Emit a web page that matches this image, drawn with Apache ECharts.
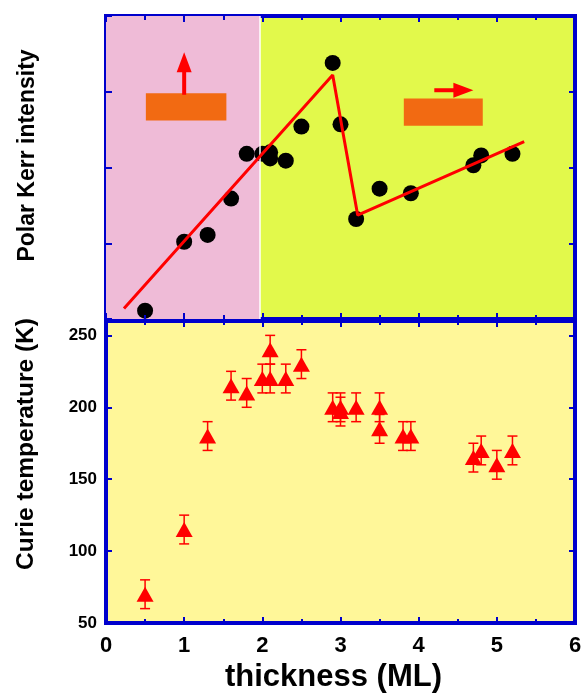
<!DOCTYPE html>
<html><head><meta charset="utf-8">
<script src="https://cdn.jsdelivr.net/npm/echarts@6/dist/echarts.min.js"></script>
<style>html,body{margin:0;padding:0;background:#fff}#c{width:587px;height:697px}</style>
</head><body><div id="c"></div><script>
// ---- data ----
const xTicks = [0, 1, 2, 3, 4, 5, 6];
const kerrTicks = [0, 1, 2, 3, 4];
const curieTicks = [50, 100, 150, 200, 250];

const kerrX = [0.5, 1.0, 1.3, 1.6, 1.8, 2.0, 2.1, 2.1, 2.3, 2.5, 2.9, 3.0, 3.2, 3.5, 3.9, 4.7, 4.8, 5.2];
const kerrY = [0.11, 1.02, 1.11, 1.59, 2.18, 2.18, 2.2, 2.12, 2.09, 2.54, 3.38, 2.57, 1.32, 1.72, 1.66, 2.03, 2.16, 2.18];

const fitX = [0.23, 2.9, 3.22, 5.35];
const fitY = [0.14, 3.22, 1.37, 2.34];

const curieX = [0.5, 1.0, 1.3, 1.6, 1.8, 2.0, 2.1, 2.1, 2.3, 2.5, 2.9, 3.0, 3.0, 3.2, 3.5, 3.5, 3.8, 3.9, 4.7, 4.8, 5.0, 5.2];
const curieY = [70, 115, 180, 215, 210, 220, 240, 220, 220, 230, 200, 200, 197, 200, 200, 185, 180, 180, 165, 170, 160, 170];
const curieErr = [10, 10, 10, 10, 10, 10, 10, 10, 10, 10, 10, 10, 10, 10, 10, 10, 10, 10, 10, 10, 10, 10];

// region boundary (out-of-plane -> in-plane)
const regionSplit = [1.97];
// annotation boxes [x1, y1, x2, y2] and arrows [xFrom, yFrom, xTo, yTo] in data units
const annotBoxes = [[0.51, 2.62, 1.54, 2.98], [3.81, 2.55, 4.82, 2.91]];
const annotArrows = [[1.0, 2.96, 1.0, 3.52], [4.2, 3.02, 4.7, 3.02]];

// ---- styles ----
const BLUE = '#0000CC', RED = '#FF0000', FONT = '"Liberation Sans", Arial, Helvetica, sans-serif';
const tick = () => ({show: true, inside: true, length: 6, lineStyle: {color: BLUE, width: 2}});
const minor = () => ({show: true, splitNumber: 2, length: 4, lineStyle: {color: BLUE, width: 2}});
const noLine = () => ({show: false, onZero: false});

function xAx(grid, pos, labels) {
  const a = {type: 'value', gridIndex: grid, position: pos, z: 10, min: xTicks[0], max: xTicks[xTicks.length - 1], interval: 1,
    axisLine: noLine(), splitLine: {show: false}, axisTick: tick(), minorTick: minor(),
    axisLabel: {show: labels, fontFamily: FONT, fontWeight: 'bold', fontSize: 22, color: '#000', margin: 12}};
  if (labels) {
    a.name = 'thickness (ML)'; a.nameLocation = 'middle'; a.nameGap = 39;
    a.nameTextStyle = {fontFamily: FONT, fontWeight: 'bold', fontSize: 31, color: '#000', padding: [0, 14, 0, 0]};
  }
  return a;
}

const chart = echarts.init(document.getElementById('c'), null, {renderer: 'canvas'});
chart.setOption({
  animation: false,
  backgroundColor: '#fff',
  grid: [
    {left: 106, top: 16, width: 469, height: 303, show: true, backgroundColor: '#E2F94B', borderColor: BLUE, borderWidth: 4},
    {left: 106, top: 321, width: 469, height: 302, show: true, backgroundColor: '#FFF799', borderColor: BLUE, borderWidth: 4}
  ],
  xAxis: [xAx(0, 'bottom', false), xAx(0, 'top', false), xAx(1, 'bottom', true), xAx(1, 'top', false)],
  yAxis: [
    {type: 'value', gridIndex: 0, position: 'left', z: 10, min: kerrTicks[0], max: kerrTicks[kerrTicks.length - 1], interval: 1,
      axisLine: noLine(), splitLine: {show: false}, axisTick: tick(), axisLabel: {show: false},
      name: 'Polar Kerr intensity', nameLocation: 'middle', nameGap: 67, nameRotate: 90,
      nameTextStyle: {fontFamily: FONT, fontWeight: 'bold', fontSize: 23, color: '#000', padding: [0, 0, 0, 24]}},
    {type: 'value', gridIndex: 0, position: 'right', z: 10, min: kerrTicks[0], max: kerrTicks[kerrTicks.length - 1], interval: 1,
      axisLine: noLine(), splitLine: {show: false}, axisTick: tick(), axisLabel: {show: false}},
    {type: 'value', gridIndex: 1, position: 'left', z: 10, min: curieTicks[0], max: 260, interval: 50,
      axisLine: noLine(), splitLine: {show: false}, axisTick: tick(),
      axisLabel: {fontFamily: FONT, fontWeight: 'bold', fontSize: 17, color: '#000', margin: 9, showMaxLabel: false},
      name: 'Curie temperature (K)', nameLocation: 'middle', nameGap: 67, nameRotate: 90,
      nameTextStyle: {fontFamily: FONT, fontWeight: 'bold', fontSize: 24.5, color: '#000', padding: [0, 0, 0, 56]}},
    {type: 'value', gridIndex: 1, position: 'right', z: 10, min: curieTicks[0], max: 260, interval: 50,
      axisLine: noLine(), splitLine: {show: false}, axisTick: tick(), axisLabel: {show: false}}
  ],
  series: [
    { // pink region background
      type: 'scatter', xAxisIndex: 0, yAxisIndex: 0, data: [], z: 1, silent: true,
      markArea: {silent: true, itemStyle: {color: '#EFBBD7'}, data: [[{xAxis: xTicks[0]}, {xAxis: regionSplit[0]}]]},
      markLine: {silent: true, symbol: 'none', label: {show: false}, lineStyle: {color: '#ffffff', width: 1.5, type: 'solid'},
        data: [{xAxis: regionSplit[0]}]}
    },
    { // orange boxes
      type: 'custom', xAxisIndex: 0, yAxisIndex: 0, z: 2, silent: true,
      data: annotBoxes, encode: {x: [0, 2], y: [1, 3]},
      renderItem(params, api) {
        const p1 = api.coord([api.value(0), api.value(3)]);
        const p2 = api.coord([api.value(2), api.value(1)]);
        return {type: 'rect', shape: {x: p1[0], y: p1[1], width: p2[0] - p1[0], height: p2[1] - p1[1]}, style: {fill: '#F26A12'}};
      }
    },
    { // arrows
      type: 'custom', xAxisIndex: 0, yAxisIndex: 0, z: 3, silent: true,
      data: annotArrows, encode: {x: [0, 2], y: [1, 3]},
      renderItem(params, api) {
        const p1 = api.coord([api.value(0), api.value(1)]);
        const p2 = api.coord([api.value(2), api.value(3)]);
        const dx = p2[0] - p1[0], dy = p2[1] - p1[1];
        const L = Math.hypot(dx, dy), ux = dx / L, uy = dy / L;
        const hl = 20, hw = 7.5;
        const bx = p2[0] - ux * hl, by = p2[1] - uy * hl, nx = -uy, ny = ux;
        return {type: 'group', children: [
          {type: 'line', shape: {x1: p1[0], y1: p1[1], x2: bx + ux, y2: by + uy}, style: {stroke: RED, lineWidth: 4}},
          {type: 'polygon', shape: {points: [[p2[0], p2[1]], [bx + nx * hw, by + ny * hw], [bx - nx * hw, by - ny * hw]]}, style: {fill: RED}}
        ]};
      }
    },
    { // Kerr data points
      type: 'scatter', xAxisIndex: 0, yAxisIndex: 0, z: 4, symbol: 'circle', symbolSize: 16,
      itemStyle: {color: '#000', opacity: 1}, data: kerrX.map((x, i) => [x, kerrY[i]])
    },
    { // guide line
      type: 'line', xAxisIndex: 0, yAxisIndex: 0, z: 5, symbol: 'none', silent: true,
      lineStyle: {color: RED, width: 3}, data: fitX.map((x, i) => [x, fitY[i]])
    },
    { // error bars
      type: 'custom', xAxisIndex: 2, yAxisIndex: 2, z: 4, silent: true,
      data: curieX.map((x, i) => [x, curieY[i], curieErr[i]]), encode: {x: 0, y: 1},
      renderItem(params, api) {
        const x = api.value(0), y = api.value(1), e = api.value(2);
        const hi = api.coord([x, y + e]), lo = api.coord([x, y - e]);
        const c = 5, st = {stroke: RED, lineWidth: 1.5};
        return {type: 'group', children: [
          {type: 'line', shape: {x1: hi[0], y1: hi[1], x2: lo[0], y2: lo[1]}, style: st},
          {type: 'line', shape: {x1: hi[0] - c, y1: hi[1], x2: hi[0] + c, y2: hi[1]}, style: st},
          {type: 'line', shape: {x1: lo[0] - c, y1: lo[1], x2: lo[0] + c, y2: lo[1]}, style: st}
        ]};
      }
    },
    { // Curie temperature points
      type: 'scatter', xAxisIndex: 2, yAxisIndex: 2, z: 5, symbol: 'triangle', symbolSize: [17, 15],
      itemStyle: {color: RED, opacity: 1}, data: curieX.map((x, i) => [x, curieY[i]])
    }
  ]
});
</script></body></html>
